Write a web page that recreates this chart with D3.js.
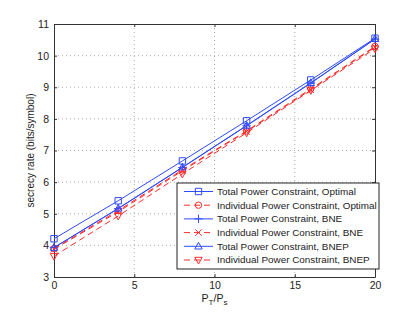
<!DOCTYPE html>
<html>
<head>
<meta charset="utf-8">
<style>
  body { margin: 0; background: #fff; }
  svg { font-family: "Liberation Sans", Arial, sans-serif; }
</style>
</head>
<body>
<svg width="415" height="312"></svg>
<script src="https://d3js.org/d3.v7.min.js"></script>
<script>
// P_T/P_s values
const ratios = [0, 4, 8, 12, 16, 20];
const totalOptimal = [4.21, 5.41, 6.67, 7.94, 9.23, 10.55];
const indivOptimal = [3.90, 5.10, 6.39, 7.62, 8.95, 10.29];
const totalBNE = [3.93, 5.16, 6.46, 7.78, 9.13, 10.52];
const indivBNE = [3.88, 5.06, 6.36, 7.60, 8.92, 10.27];
const totalBNEP = [3.93, 5.17, 6.47, 7.79, 9.14, 10.53];
const indivBNEP = [3.66, 4.93, 6.26, 7.56, 8.90, 10.22];
const xTicks = [0, 5, 10, 15, 20];
const yTicks = [3, 4, 5, 6, 7, 8, 9, 10, 11];

const blue = "#2f4bff", red = "#ff2a2a";
const series = [
  { name: "Total Power Constraint, Optimal", vals: totalOptimal, color: blue, dash: null, mark: "square" },
  { name: "Individual Power Constraint, Optimal", vals: indivOptimal, color: red, dash: "6,4", mark: "circle" },
  { name: "Total Power Constraint, BNE", vals: totalBNE, color: blue, dash: null, mark: "plus" },
  { name: "Individual Power Constraint, BNE", vals: indivBNE, color: red, dash: "6,4", mark: "cross" },
  { name: "Total Power Constraint, BNEP", vals: totalBNEP, color: blue, dash: null, mark: "tri" },
  { name: "Individual Power Constraint, BNEP", vals: indivBNEP, color: red, dash: "6,4", mark: "trid" }
];

const svg = d3.select("svg");
const m = { left: 54, right: 375, top: 24, bottom: 277 };
const x = d3.scaleLinear().domain([0, 20]).range([m.left, m.right]);
const y = d3.scaleLinear().domain([3, 11]).range([m.bottom, m.top]);

// grid
const grid = svg.append("g").attr("stroke", "#999").attr("stroke-width", 0.8)
  .attr("stroke-dasharray", "1,3");
xTicks.slice(1, -1).forEach(t => grid.append("line")
  .attr("x1", x(t)).attr("x2", x(t)).attr("y1", m.top).attr("y2", m.bottom));
yTicks.slice(1, -1).forEach(t => grid.append("line")
  .attr("x1", m.left).attr("x2", m.right).attr("y1", y(t)).attr("y2", y(t)));

// axes (box with inward ticks)
const axCol = "#333";
svg.append("g").attr("transform", `translate(0,${m.bottom})`)
  .call(d3.axisBottom(x).tickValues(xTicks).tickSizeInner(-3).tickSizeOuter(0).tickPadding(5));
svg.append("g").attr("transform", `translate(0,${m.top})`)
  .call(d3.axisTop(x).tickValues(xTicks).tickSizeInner(-3).tickSizeOuter(0).tickFormat(""));
svg.append("g").attr("transform", `translate(${m.left},0)`)
  .call(d3.axisLeft(y).tickValues(yTicks).tickSizeInner(-3).tickSizeOuter(0).tickPadding(5));
svg.append("g").attr("transform", `translate(${m.right},0)`)
  .call(d3.axisRight(y).tickValues(yTicks).tickSizeInner(-3).tickSizeOuter(0).tickFormat(""));
svg.selectAll(".domain, .tick line").attr("stroke", axCol);
svg.selectAll(".tick text").attr("fill", "#222").style("font-size", "10.5px")
  .style("font-family", "'Liberation Sans', Arial, sans-serif");

function marker(g, kind, cx, cy, color) {
  const s = 3.2;
  const p = g.append("path").attr("fill", "none").attr("stroke", color).attr("stroke-width", 1);
  if (kind === "square") p.attr("d", `M${cx - s},${cy - s}h${2 * s}v${2 * s}h${-2 * s}Z`);
  else if (kind === "circle") p.attr("d", `M${cx + s},${cy}A${s},${s} 0 1,1 ${cx - s},${cy}A${s},${s} 0 1,1 ${cx + s},${cy}`);
  else if (kind === "plus") p.attr("d", `M${cx - s - 1},${cy}h${2 * s + 2}M${cx},${cy - s - 1}v${2 * s + 2}`);
  else if (kind === "cross") p.attr("d", `M${cx - s},${cy - s}l${2 * s},${2 * s}M${cx - s},${cy + s}l${2 * s},${-2 * s}`);
  else if (kind === "tri") p.attr("d", `M${cx},${cy - s - 0.8}L${cx + s + 0.5},${cy + s - 0.5}L${cx - s - 0.5},${cy + s - 0.5}Z`);
  else if (kind === "trid") p.attr("d", `M${cx},${cy + s + 0.8}L${cx + s + 0.5},${cy - s + 0.5}L${cx - s - 0.5},${cy - s + 0.5}Z`);
}

// series
const line = d3.line().x((d, i) => x(ratios[i])).y(d => y(d));
series.forEach(s => {
  const g = svg.append("g");
  g.append("path").attr("d", line(s.vals)).attr("fill", "none")
    .attr("stroke", s.color).attr("stroke-width", 1)
    .attr("stroke-dasharray", s.dash);
  s.vals.forEach((v, i) => marker(g, s.mark, x(ratios[i]), y(v), s.color));
});

// axis labels
svg.append("text").attr("transform", `translate(34,${(m.top + m.bottom) / 2}) rotate(-90)`)
  .attr("text-anchor", "middle").style("font-size", "10px").attr("fill", "#222")
  .text("secrecy rate (bits/symbol)");
const xl = svg.append("text").attr("x", x(10)).attr("y", 302)
  .attr("text-anchor", "middle").style("font-size", "10.5px").attr("fill", "#222");
xl.append("tspan").text("P");
xl.append("tspan").attr("dy", 3).style("font-size", "8px").text("T");
xl.append("tspan").attr("dy", -3).text("/P");
xl.append("tspan").attr("dy", 3).style("font-size", "8px").text("s");

// legend
const lg = svg.append("g").attr("transform", "translate(177,183)");
lg.append("rect").attr("width", 202).attr("height", 86)
  .attr("fill", "#fff").attr("stroke", "#222").attr("stroke-width", 1);
series.forEach((s, i) => {
  const cy = 8.5 + i * 13.7;
  lg.append("line").attr("x1", 7).attr("x2", 36).attr("y1", cy).attr("y2", cy)
    .attr("stroke", s.color).attr("stroke-width", 1).attr("stroke-dasharray", s.dash);
  marker(lg, s.mark, 21.5, cy, s.color);
  lg.append("text").attr("x", 40).attr("y", cy + 3.4).style("font-size", "9.9px")
    .attr("fill", "#222").text(s.name);
});
</script>
</body>
</html>
